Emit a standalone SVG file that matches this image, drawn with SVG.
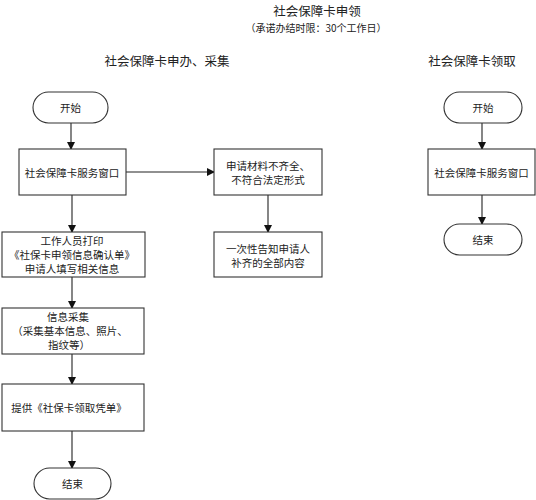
<svg xmlns="http://www.w3.org/2000/svg" width="536" height="500" viewBox="0 0 536 500">
<style>
text{font-family:"Noto Sans CJK SC","Liberation Serif",serif;fill:#222;text-anchor:middle;dominant-baseline:central}
.t{font-size:10.5px}
.h{font-size:12.5px}
.box{fill:#fff;stroke:#333;stroke-width:1.1}
.ln{stroke:#222;stroke-width:1.1;fill:none}
</style>
<defs>
<marker id="ar" markerWidth="8" markerHeight="8" refX="7" refY="4" orient="auto" markerUnits="userSpaceOnUse">
<path d="M0,0 L8,4 L0,8 Z" fill="#111"/>
</marker>
</defs>
<rect width="536" height="500" fill="#fff"/>
<text x="317" y="10" class="h">社会保障卡申领</text>
<text x="316" y="27" style="font-size:10px">（承诺办结时限：30个工作日）</text>
<text x="167" y="60" class="h">社会保障卡申办、采集</text>
<text x="472" y="60" class="h">社会保障卡领取</text>

<g id="connectors">
<line class="ln" x1="71" y1="123" x2="71" y2="149" marker-end="url(#ar)"/>
<line class="ln" x1="126" y1="172" x2="214" y2="172" marker-end="url(#ar)"/>
<line class="ln" x1="268" y1="195" x2="268" y2="232" marker-end="url(#ar)"/>
<line class="ln" x1="72" y1="195" x2="72" y2="232" marker-end="url(#ar)"/>
<line class="ln" x1="72" y1="277" x2="72" y2="308" marker-end="url(#ar)"/>
<line class="ln" x1="72" y1="354" x2="72" y2="384" marker-end="url(#ar)"/>
<line class="ln" x1="72" y1="431" x2="72" y2="468" marker-end="url(#ar)"/>
<line class="ln" x1="482" y1="123" x2="482" y2="149" marker-end="url(#ar)"/>
<line class="ln" x1="482" y1="195" x2="482" y2="224" marker-end="url(#ar)"/>
</g>

<g id="start1"><rect class="box" x="33" y="92" width="75" height="31" rx="15.5"/><text x="70.5" y="107.5" class="t">开始</text></g>
<g id="window1"><rect class="box" x="19" y="149" width="107" height="46"/><text x="72" y="172" class="t">社会保障卡服务窗口</text></g>
<g id="incomplete"><rect class="box" x="214" y="149" width="108" height="46"/><text x="268" y="165" class="t">申请材料不齐全、</text><text x="268" y="179" class="t">不符合法定形式</text></g>
<g id="notify"><rect class="box" x="214" y="232" width="108" height="45"/><text x="268" y="248" class="t">一次性告知申请人</text><text x="268" y="262" class="t">补齐的全部内容</text></g>
<g id="print"><rect class="box" x="2" y="232" width="143" height="45"/><text x="72" y="240.5" class="t">工作人员打印</text><text x="72" y="254.5" class="t">《社保卡申领信息确认单》</text><text x="72" y="268.5" class="t">申请人填写相关信息</text></g>
<g id="collect"><rect class="box" x="2" y="308" width="142" height="46"/><text x="68" y="316.5" class="t">信息采集</text><text x="70" y="330.5" class="t">（采集基本信息、照片、</text><text x="69" y="344.5" class="t">指纹等）</text></g>
<g id="provide"><rect class="box" x="2" y="384" width="142" height="47"/><text x="69" y="407.5" class="t">提供《社保卡领取凭单》</text></g>
<g id="end1"><rect class="box" x="34" y="468" width="77" height="31" rx="15.5"/><text x="72.5" y="483.5" class="t">结束</text></g>

<g id="start2"><rect class="box" x="444" y="92" width="78" height="31" rx="15.5"/><text x="483" y="107.5" class="t">开始</text></g>
<g id="window2"><rect class="box" x="428" y="149" width="107" height="46"/><text x="481.5" y="172" class="t">社会保障卡服务窗口</text></g>
<g id="end2"><rect class="box" x="444" y="224" width="78" height="31" rx="15.5"/><text x="483" y="239.5" class="t">结束</text></g>
</svg>
